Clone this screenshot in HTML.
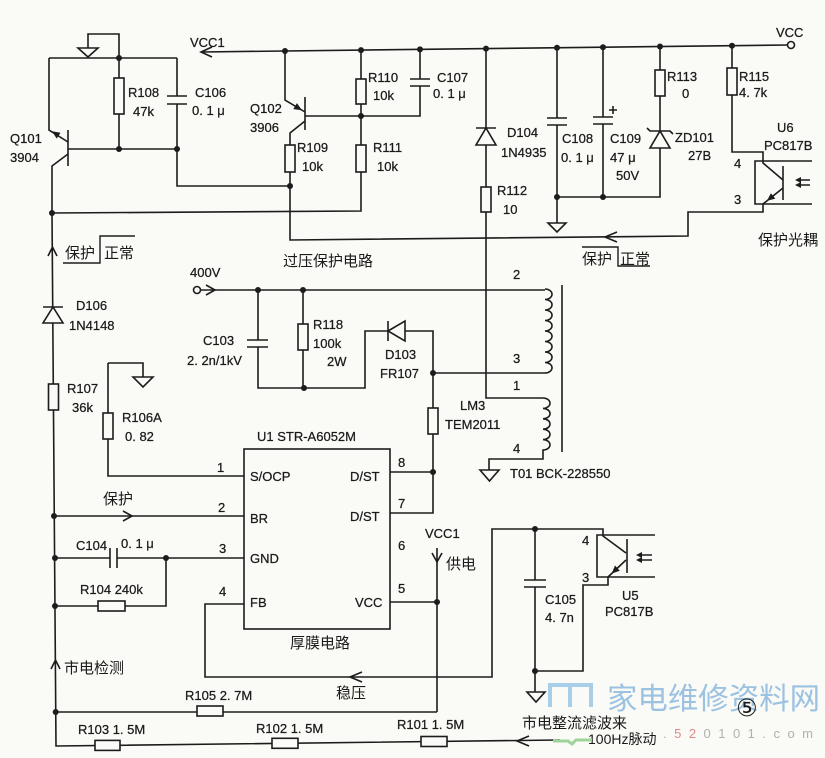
<!DOCTYPE html>
<html><head><meta charset="utf-8"><style>
html,body{margin:0;padding:0;background:#fafaf7;}
svg{display:block;}
.t{font-family:"Liberation Sans","DejaVu Sans",sans-serif;font-size:13px;fill:#1a1a1a;stroke:#1a1a1a;stroke-width:0.25;}
.c{font-family:"Liberation Sans","Noto Sans CJK SC",sans-serif;font-size:15px;fill:#1a1a1a;}
</style></head><body>
<svg width="825" height="758" viewBox="0 0 825 758" xmlns="http://www.w3.org/2000/svg">
<rect width="825" height="758" fill="#fafaf7"/>
<g stroke="#1c1c1c" stroke-width="1.6" fill="none">
<!-- top left ground + Q101 -->
<path d="M88,48 V34 H119 V58"/>
<polygon points="78,48 98,48 88,57" fill="#fafaf7"/>
<path d="M49,58 H177"/>
<path d="M49,58 V130 L68,142"/>
<path d="M68,130 V166"/>
<path d="M68,154 L52,166 V213"/>
<path d="M68,149 H177"/>
<path d="M119,58 V149"/>
<rect x="114" y="78" width="10" height="36" fill="#fafaf7"/>
<path d="M177,58 V96 M167,96 H187 M167,104 H187 M177,104 V186 H290"/>
<path d="M52,213 L361,211 V172"/>
<!-- VCC1 rail -->
<path d="M201,52 L787.5,45"/>
<path d="M212,47 L201,52 L212,57"/>
<circle cx="791" cy="45" r="3.5" fill="#fafaf7"/>
<!-- Q102 -->
<path d="M285,51 V100 L305,112"/>
<path d="M305,97 V130"/>
<path d="M305,121 L290,133 V240 L688,236 V212 H763 V204"/>
<rect x="285" y="145" width="10" height="27" fill="#fafaf7"/>
<path d="M305,116 H420 V86 M410,86 H430 M410,79 H430 M420,79 V49.4"/>
<path d="M361,50 V172"/>
<rect x="356" y="79" width="10" height="25" fill="#fafaf7"/>
<rect x="356" y="145" width="10" height="27" fill="#fafaf7"/>
<path d="M617,232 L605,237 L617,242"/>
<!-- D104 / R112 -->
<path d="M486,48.6 V398 H543"/>
<path d="M476,128 H496"/>
<polygon points="476,145 496,145 486,128" fill="#fafaf7"/>
<rect x="481" y="187" width="10" height="25" fill="#fafaf7"/>
<!-- C108 C109 ZD101 -->
<path d="M557,47.7 V118 M547,118 H567 M547,125 H567 M557,125 V223"/>
<polygon points="548,223 566,223 557,232" fill="#fafaf7"/>
<path d="M603,47.2 V117 M593,117 H613 M593,124 H613 M603,124 V197"/>
<path d="M609,110 H617 M613,106 V114"/>
<path d="M660,46.5 V197 H557"/>
<rect x="655" y="70" width="10" height="26" fill="#fafaf7"/>
<polygon points="650,148 670,148 660,131" fill="#fafaf7"/>
<path d="M647,128 L650,131 H670 L673,134"/>
<!-- R115 / U6 -->
<path d="M732,45.7 V152 H763 V163 L783,180"/>
<rect x="727" y="68" width="10" height="27" fill="#fafaf7"/>
<path d="M812,161 H755 V204 H812"/>
<path d="M783,166 V200"/>
<path d="M783,188 L763,204"/>
<path d="M799,180 H810 M799,185 H810"/>
<!-- 400V -->
<circle cx="197" cy="290" r="3.5" fill="#fafaf7"/>
<path d="M201,290 H545"/>
<path d="M206,285 L215,290 L206,295"/>
<path d="M258,290 V340 M247,340 H268 M247,347 H268 M258,347 V388 H365 V331 H388"/>
<path d="M303,290 V388"/>
<rect x="298" y="324" width="10" height="26" fill="#fafaf7"/>
<path d="M388,321 V341"/>
<polygon points="388,331 405,321 405,341" fill="#fafaf7"/>
<path d="M405,331 H433 V513 H390 M390,472 H433 M433,373 H545"/>
<rect x="428" y="408" width="10" height="26" fill="#fafaf7"/>
<!-- transformer -->
<path d="M545,289 a7,5.25 0 0 1 0,10.5 a7,5.25 0 0 1 0,10.5 a7,5.25 0 0 1 0,10.5 a7,5.25 0 0 1 0,10.5 a7,5.25 0 0 1 0,10.5 a7,5.25 0 0 1 0,10.5 a7,5.25 0 0 1 0,10.5 a7,5.25 0 0 1 0,10.5"/>
<path d="M562,285 V452"/>
<path d="M543,398 a7,5.2 0 0 1 0,10.4 a7,5.2 0 0 1 0,10.4 a7,5.2 0 0 1 0,10.4 a7,5.2 0 0 1 0,10.4 a7,5.2 0 0 1 0,10.4 V459 H489 V470"/>
<polygon points="480,470 499,470 489.5,481" fill="#fafaf7"/>
<!-- left column -->
<path d="M52,213 L56,746 L560,740"/>
<path d="M48,256 L52.5,247 L57,256"/>
<path d="M51,669 L55.5,660 L60,669"/>
<path d="M43,307 H63"/>
<polygon points="43,323 63,323 53,307" fill="#fafaf7"/>
<rect x="48.5" y="384" width="10" height="26" fill="#fafaf7"/>
<!-- R106A -->
<path d="M108,363 H143 V377"/>
<polygon points="133,377 153,377 143,387" fill="#fafaf7"/>
<path d="M108,363 V476 H244"/>
<rect x="103" y="413" width="10" height="26" fill="#fafaf7"/>
<!-- BR -->
<path d="M54,516 H244"/>
<path d="M123,511 L132,516 L123,521"/>
<!-- C104 / R104 -->
<path d="M55,558 H110 M110,548 V568 M117,548 V568 M117,558 H244"/>
<path d="M55,606 H166 V558"/>
<rect x="98" y="601" width="27" height="10" fill="#fafaf7"/>
<!-- U1 -->
<rect x="244" y="449" width="146" height="180"/>
<path d="M390,602 H437 M437,548 V712"/>
<path d="M432,553 L437,562 L442,553"/>
<!-- FB -->
<path d="M244,604 H205 V677 H492 V529 H603 V536 L626,553"/>
<path d="M362,672 L350,677 L362,682"/>
<!-- U5 -->
<path d="M655,535 H597 V577 H655"/>
<path d="M627,539 V573"/>
<path d="M626,560 L608,577 V585 H583 V671 H535"/>
<path d="M640,555 H652 M640,560 H652"/>
<path d="M535,529 V580 M524,580 H546 M524,587 H546 M535,587 V692"/>
<polygon points="527,692 545,692 536,702" fill="#fafaf7"/>
<!-- R105 and bottom -->
<path d="M55.7,712 H437"/>
<rect x="197" y="706" width="26" height="10" fill="#fafaf7"/>
<rect x="95" y="740.4" width="25" height="10" fill="#fafaf7"/>
<rect x="272" y="738.3" width="26" height="10" fill="#fafaf7"/>
<rect x="421" y="736.5" width="26" height="10" fill="#fafaf7"/>
<path d="M529,736 L517,741 L529,746"/>
</g>
<!-- arrowheads -->
<g fill="#1c1c1c" stroke="none">
<polygon points="52,131.3 60.5,132.8 56.7,138.6"/>
<polygon points="302,110.2 293.3,109.1 296.9,103.1"/>
<polygon points="766.9,200.9 775.3,198.6 770.9,193.2"/>
<polygon points="611.6,573.6 619.8,570.7 615,565.5"/>
<polygon points="795,180 801,177 801,183"/>
<polygon points="795,185 801,182 801,188"/>
<polygon points="636,555 642,552 642,558"/>
<polygon points="636,560 642,557 642,563"/>
</g>
<!-- nodes -->
<g fill="#1c1c1c">
<circle cx="119" cy="58" r="3"/><circle cx="119" cy="149" r="3"/><circle cx="177" cy="149" r="3"/>
<circle cx="290" cy="186" r="3"/><circle cx="52" cy="213" r="3"/><circle cx="285" cy="51" r="3"/>
<circle cx="361" cy="50.1" r="3"/><circle cx="361" cy="116" r="3"/><circle cx="420" cy="49.4" r="3"/>
<circle cx="486" cy="48.6" r="3"/><circle cx="557" cy="47.7" r="3"/><circle cx="603" cy="47.2" r="3"/>
<circle cx="660" cy="46.5" r="3"/><circle cx="732" cy="45.7" r="3"/><circle cx="557" cy="197" r="3"/>
<circle cx="603" cy="197" r="3"/><circle cx="258" cy="290" r="3"/><circle cx="303" cy="290" r="3"/>
<circle cx="304" cy="388" r="3"/><circle cx="433" cy="373" r="3"/><circle cx="433" cy="472" r="3"/>
<circle cx="54" cy="516" r="3"/><circle cx="55" cy="558" r="3"/><circle cx="55" cy="606" r="3"/>
<circle cx="166" cy="558" r="3"/><circle cx="437" cy="602" r="3"/><circle cx="55.7" cy="712" r="3"/>
<circle cx="535" cy="529" r="3"/><circle cx="535" cy="671" r="3"/>
</g>
<!-- bracket lines -->
<g stroke="#1c1c1c" stroke-width="1.4" fill="none">
<path d="M63,263 H100 V236 H135"/>
<path d="M582,247 H618 V266 H650"/>
</g>
<!-- labels -->
<g class="t">
<text x="10" y="143">Q101</text><text x="10" y="162">3904</text>
<text x="128" y="97">R108</text><text x="133" y="116">47k</text>
<text x="195" y="97">C106</text><text x="192" y="115">0. 1 μ</text>
<text x="190" y="47">VCC1</text>
<text x="250" y="113">Q102</text><text x="250" y="132">3906</text>
<text x="368" y="82">R110</text><text x="373" y="100">10k</text>
<text x="297" y="152">R109</text><text x="302" y="171">10k</text>
<text x="373" y="152">R111</text><text x="377" y="171">10k</text>
<text x="437" y="82">C107</text><text x="433" y="98">0. 1 μ</text>
<text x="507" y="137">D104</text><text x="501" y="157">1N4935</text>
<text x="497" y="195">R112</text><text x="503" y="214">10</text>
<text x="562" y="143">C108</text><text x="561" y="162">0. 1 μ</text>
<text x="610" y="143">C109</text><text x="610" y="162">47 μ</text><text x="616" y="180">50V</text>
<text x="667" y="81">R113</text><text x="682" y="98">0</text>
<text x="675" y="142">ZD101</text><text x="688" y="160">27B</text>
<text x="739" y="81">R115</text><text x="739" y="97">4. 7k</text>
<text x="776" y="37">VCC</text>
<text x="777" y="132">U6</text><text x="764" y="150">PC817B</text>
<text x="734" y="168">4</text><text x="734" y="204">3</text>
<text x="190" y="277">400V</text>
<text x="513" y="279">2</text><text x="513" y="363">3</text><text x="513" y="390">1</text><text x="513" y="453">4</text>
<text x="76" y="310">D106</text><text x="69" y="330">1N4148</text>
<text x="203" y="345">C103</text><text x="187" y="365">2. 2n/1kV</text>
<text x="313" y="329">R118</text><text x="313" y="348">100k</text><text x="327" y="366">2W</text>
<text x="385" y="359">D103</text><text x="380" y="378">FR107</text>
<text x="460" y="410">LM3</text><text x="445" y="429">TEM2011</text>
<text x="510" y="478">T01  BCK-228550</text>
<text x="67" y="393">R107</text><text x="72" y="412">36k</text>
<text x="122" y="422">R106A</text><text x="125" y="441">0. 82</text>
<text x="257" y="441">U1  STR-A6052M</text>
<text x="217" y="472">1</text><text x="250" y="481">S/OCP</text>
<text x="350" y="481">D/ST</text><text x="398" y="467">8</text>
<text x="218" y="512">2</text><text x="250" y="523">BR</text>
<text x="350" y="521">D/ST</text><text x="398" y="508">7</text>
<text x="76" y="550">C104</text><text x="121" y="548">0. 1 μ</text>
<text x="219" y="553">3</text><text x="250" y="563">GND</text>
<text x="398" y="550">6</text>
<text x="425" y="538">VCC1</text>
<text x="219" y="596">4</text><text x="250" y="607">FB</text>
<text x="398" y="593">5</text><text x="355" y="607">VCC</text>
<text x="80" y="594">R104  240k</text>
<text x="185" y="700">R105  2. 7M</text>
<text x="78" y="734">R103  1. 5M</text>
<text x="256" y="733">R102  1. 5M</text>
<text x="397" y="729">R101  1. 5M</text>
<text x="582" y="545">4</text><text x="582" y="582">3</text>
<text x="622" y="600">U5</text><text x="605" y="616">PC817B</text>
<text x="545" y="604">C105</text><text x="545" y="622">4. 7n</text>
</g>
<g class="c">
<text x="65" y="258">保护</text><text x="104" y="258">正常</text>
<text x="283" y="266">过压保护电路</text>
<text x="758" y="245">保护光耦</text>
<text x="582" y="264">保护</text><text x="620" y="264">正常</text>
<text x="103" y="504">保护</text>
<text x="446" y="569">供电</text>
<text x="290" y="648">厚膜电路</text>
<text x="64" y="673">市电检测</text>
<text x="336" y="698">稳压</text>
<text x="522" y="728">市电整流滤波来</text>
<text x="588" y="744" style="font-size:14px">100Hz脉动</text>
</g>
<!-- watermark logo -->
<path d="M550,707 V685 H591 V707 M570,685 V707" stroke="#a8cfea" stroke-width="4" fill="none"/>
<path d="M553,741 H568 L572,744 L576,740 H592" stroke="#9ed49a" stroke-width="3" fill="none"/>
<text x="607" y="709" textLength="213" lengthAdjust="spacingAndGlyphs" style="font-family:'Noto Sans CJK SC',sans-serif;font-size:30px;fill:#9cc2e2;">家电维修资料网</text>
<text x="736" y="716" style="font-family:'DejaVu Sans',sans-serif;font-size:24px;fill:#1a1a1a;">⑤</text>
<text x="663" y="738" textLength="150" style="font-family:'Liberation Sans',sans-serif;font-size:13px;fill:#b0b0b0;">.<tspan fill="#e08a8a">52</tspan>0101.com</text>
</svg>
</body></html>
